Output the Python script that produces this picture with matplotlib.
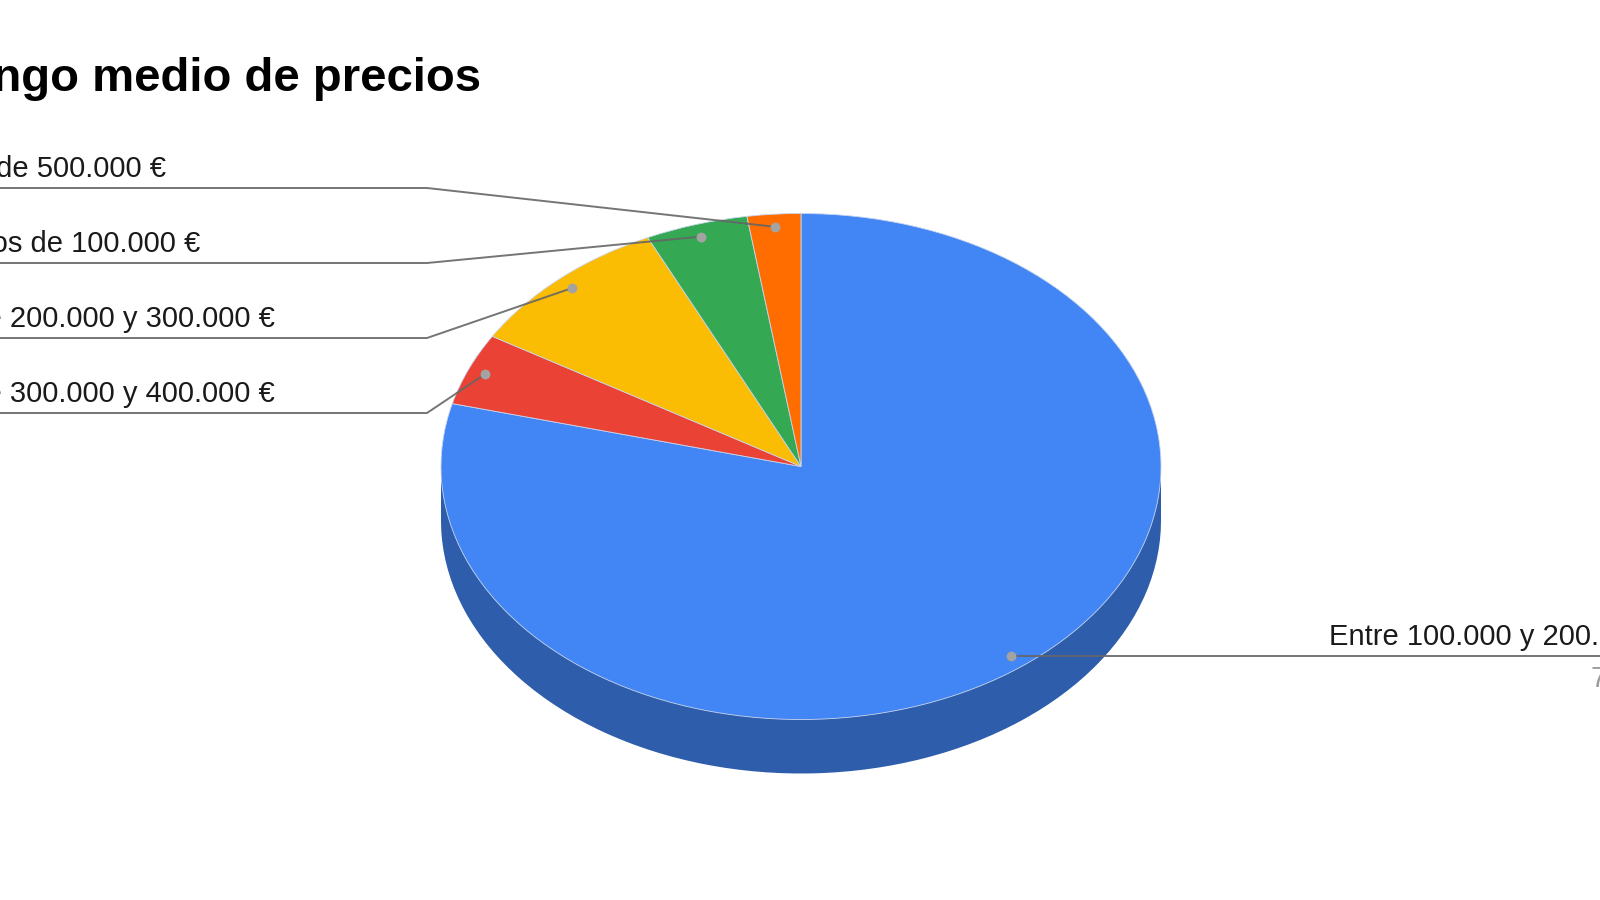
import numpy as np
import matplotlib
matplotlib.use("Agg")
import matplotlib.pyplot as plt
from matplotlib.patches import Rectangle

plt.rcParams['font.family'] = ['Liberation Sans', 'DejaVu Sans']

categories = ["Entre 100.000 y 200.000 €", "Entre 300.000 y 400.000 €",
              "Entre 200.000 y 300.000 €", "Menos de 100.000 €", "Más de 500.000 €"]
values = [79.0, 4.6, 9.4, 4.6, 2.4]
colors = ["#4285F4", "#EA4335", "#FBBC04", "#34A853", "#FF6D01"]
side_color = "#2E5DAC"
title = "Rango medio de precios"
main_percent = "79 %"

W, H = 1600, 900
cx, cy, rx, ry, depth = 801, 466.5, 360, 253, 54
text_gray = "#1A1A1A"
line_gray = "#666666"

fig = plt.figure(figsize=(16, 9), dpi=100, facecolor="white")

def pie_axes(offset):
    ax = fig.add_axes([(cx - rx) / W, 1 - (cy + offset + ry) / H, 2 * rx / W, 2 * ry / H])
    ax.set_axis_off()
    return ax

# overlay in pixel units
ov = fig.add_axes([0, 0, 1, 1], zorder=5)
ov.set_xlim(0, W); ov.set_ylim(H, 0); ov.set_axis_off(); ov.patch.set_alpha(0)

# side of the disc
ax_side = pie_axes(depth)
ax_side.pie(values, colors=[side_color] * len(values), startangle=90, counterclock=False, radius=1)
ax_side.set_aspect('auto'); ax_side.set_xlim(-1, 1); ax_side.set_ylim(-1, 1)
ax_band = fig.add_axes([0, 0, 1, 1], zorder=0.5)
ax_band.set_xlim(0, W); ax_band.set_ylim(H, 0); ax_band.set_axis_off()
ax_band.add_patch(Rectangle((cx - rx, cy), 2 * rx, depth, color=side_color, lw=0))

# top of the disc
ax_top = pie_axes(0)
ax_top.set_zorder(1)
ax_top.pie(values, colors=colors, startangle=90, counterclock=False, radius=1,
           wedgeprops=dict(edgecolor="#C9D6EE", linewidth=0.6))
ax_top.set_aspect('auto'); ax_top.set_xlim(-1, 1); ax_top.set_ylim(-1, 1)

# leaders, anchored at the middle of each slice
edges = np.cumsum([0] + values)
mids = np.radians((edges[:-1] + edges[1:]) / 2 * 3.6)
dot_x = cx + 0.95 * rx * np.sin(mids)
dot_y = cy - 0.95 * ry * np.cos(mids)

left_y = {1: 413, 2: 338, 3: 263, 4: 188}
left_end = {1: 275, 2: 275, 3: 200, 4: 166}
elbow = 427
for i, y in left_y.items():
    ov.plot([-5, elbow, dot_x[i]], [y, y, dot_y[i]], color=line_gray, lw=1.4,
            solid_joinstyle="miter", clip_on=True, alpha=0.9)
    ov.text(left_end[i], y - 11, categories[i], ha="right", va="baseline",
            fontsize=21, color=text_gray)

ov.plot([dot_x[0], W + 5], [656, 656], color=line_gray, lw=1.4, alpha=0.9)
ov.text(1329, 645, categories[0], ha="left", va="baseline", fontsize=21, color=text_gray)
ov.text(1591, 687, main_percent, ha="left", va="baseline", fontsize=21, color="#9E9E9E")

ov.scatter(dot_x, dot_y, s=50, color="#A3A3A3", zorder=6, linewidths=0)

ov.text(481, 91, title, ha="right", va="baseline", fontsize=34, fontweight="bold", color="black")

fig.savefig("out.png", dpi=100)
